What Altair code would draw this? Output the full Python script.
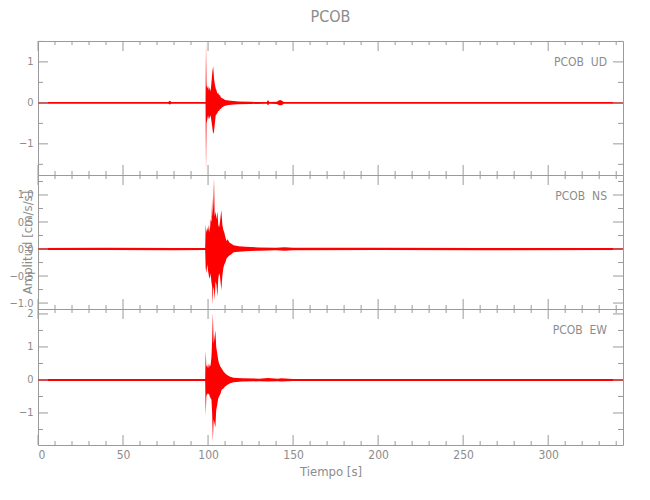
import altair as alt
import pandas as pd

# ---- data: envelope of each trace (time s, upper, lower) ----
UD = [(0, .022, -.022), (30, .024, -.02), (60, .022, -.022), (76.5, .022, -.022), (77.5, .05, -.04),
      (78.5, .022, -.022), (95, .022, -.022), (98.5, .022, -.022), (98.8, 1.47, -1.66), (99.1, .45, -.50),
      (99.5, .35, -.42), (100.0, .42, -.30), (100.5, .30, -.40), (101.0, .38, -.35), (101.5, .28, -.30),
      (102.0, .50, -.45), (102.5, .75, -.60), (103.0, .90, -.76), (103.5, .60, -.70), (104.0, .45, -.50),
      (104.5, .35, -.30), (105.0, .30, -.28), (105.5, .22, -.25), (106.0, .25, -.20), (106.5, .18, -.20),
      (107.0, .20, -.15), (107.5, .14, -.15), (108.0, .12, -.12), (109.0, .10, -.09), (110.0, .07, -.07),
      (112.0, .06, -.05), (115.0, .045, -.04), (118.0, .035, -.035), (125.0, .025, -.025), (134.5, .022, -.022),
      (135.3, .07, -.06), (136.0, .022, -.022), (140.5, .03, -.03), (141.5, .06, -.05), (142.5, .07, -.06),
      (143.5, .05, -.05), (144.5, .022, -.022), (200, .022, -.022), (260, .024, -.022), (344, .022, -.022)]

NS = [(0, .018, -.018), (40, .022, -.018), (80, .018, -.022), (98.3, .018, -.018), (98.6, .46, -.35),
      (99.0, .30, -.45), (99.5, .40, -.28), (100.0, .33, -.40), (100.5, .45, -.50), (101.0, .30, -.55),
      (101.5, .55, -.45), (102.0, .50, -.62), (102.4, .95, -.70), (102.7, .60, -1.03), (103.1, .85, -.70),
      (103.5, 1.31, -.75), (103.9, .60, -.95), (104.4, .70, -.60), (104.9, .55, -.65), (105.5, .69, -.88),
      (106.0, .45, -.55), (106.5, .40, -.45), (107.0, .50, -.50), (107.8, .72, -.76), (108.4, .45, -.50),
      (109.0, .35, -.35), (109.6, .30, -.28), (110.2, .22, -.25), (110.8, .15, -.18), (111.5, .18, -.15),
      (112.5, .12, -.12), (113.5, .10, -.10), (115, .07, -.06), (118, .05, -.05), (122, .04, -.04),
      (130, .03, -.03), (140, .025, -.022), (145, .035, -.03), (150, .022, -.022), (200, .022, -.018),
      (260, .018, -.022), (344, .018, -.018)]

EW = [(0, .028, -.028), (50, .03, -.028), (98.3, .028, -.028), (98.6, .89, -1.08), (99.0, .40, -.50),
      (99.5, .45, -.40), (100.0, .35, -.45), (100.5, .50, -.40), (101.0, .40, -.50), (101.5, .45, -.55),
      (102.0, .70, -.60), (102.4, 1.20, -1.00), (102.8, 2.03, -1.86), (103.3, 1.10, -1.20), (104.3, 1.50, -1.43),
      (104.8, 1.00, -.90), (105.3, .84, -.78), (106.0, .60, -.55), (106.5, .50, -.50), (107.3, .40, -.42),
      (108.0, .35, -.30), (109.2, .25, -.25), (110.0, .20, -.20), (111.2, .15, -.15), (113, .10, -.10),
      (115, .07, -.07), (120, .05, -.05), (130, .04, -.04), (135.3, .06, -.05), (141, .04, -.04),
      (143, .05, -.05), (150, .03, -.03), (200, .028, -.028), (344, .028, -.028)]

X_DOMAIN = [0, 344]
X_MAJOR = [0, 50, 100, 150, 200, 250, 300]
X_MINOR = [v for v in range(10, 344, 10) if v % 50]

Y_DOMAINS = {"UD": [-1.76, 1.51], "NS": [-1.11, 1.37], "EW": [-1.97, 2.15]}
Y_MAJOR = {"UD": [-1, 0, 1], "NS": [-1.0, -0.5, 0.0, 0.5, 1.0], "EW": [-1, 0, 1, 2]}
Y_MINOR = {"UD": [-1.5, -0.5, 0.5, 1.5], "NS": [-0.75, -0.25, 0.25, 0.75, 1.25],
           "EW": [-1.5, -0.5, 0.5, 1.5]}
Y_FMT = {"UD": "d", "NS": ".1f", "EW": "d"}

W = 585
GRAY = "#8c8c8c"
FONT = "Liberation Sans Narrow, DejaVu Sans Condensed, Roboto Condensed, sans-serif"
AXSTYLE = dict(labelFont=FONT, labelFontSize=11, labelColor=GRAY, titleFont=FONT, titleFontSize=13,
               titleColor=GRAY, titleFontWeight="normal", tickSize=0, domain=False, grid=False)


def panel(name, rows, h, first=False, last=False, ytitle=None):
    df = pd.DataFrame(rows, columns=["t", "hi", "lo"])
    xs = alt.Scale(domain=X_DOMAIN, nice=False, zero=False)
    ys = alt.Scale(domain=Y_DOMAINS[name], nice=False, zero=False)
    if last:
        xaxis = alt.Axis(values=X_MAJOR, labelPadding=4, title="Tiempo  [s]", titlePadding=5,
                         format="d", labelFontSize=12, **{k: v for k, v in AXSTYLE.items() if k != "labelFontSize"})
    else:
        xaxis = None
    yax = dict(values=Y_MAJOR[name], labelPadding=5, format=Y_FMT[name], **AXSTYLE)
    if ytitle:
        yax.update(title=ytitle, titleX=-4, titleY=h / 2)
    else:
        yax.update(title=None)
    yaxis = alt.Axis(**yax)

    trace = alt.Chart(df).mark_area(color="#ff0000", interpolate="linear", clip=True).encode(
        x=alt.X("t:Q", scale=xs, axis=xaxis),
        y=alt.Y("hi:Q", scale=ys, axis=yaxis),
        y2="lo:Q",
    )

    xmaj = pd.DataFrame({"v": X_MAJOR})
    xmin = pd.DataFrame({"v": X_MINOR})
    ymaj = pd.DataFrame({"v": Y_MAJOR[name]})
    ymin = pd.DataFrame({"v": Y_MINOR[name]})
    tick = dict(color="#9a9a9a", strokeWidth=1)
    layers = [trace]
    for d, L in ((xmaj, 10), (xmin, 4)):
        xe = alt.X("v:Q", scale=xs, axis=xaxis)
        layers.append(alt.Chart(d).mark_rule(**tick).encode(x=xe, y=alt.value(0), y2=alt.value(L)))
        layers.append(alt.Chart(d).mark_rule(**tick).encode(x=xe, y=alt.value(h), y2=alt.value(h - L)))
    for d, L in ((ymaj, 10), (ymin, 5)):
        ye = alt.Y("v:Q", scale=ys, axis=yaxis)
        layers.append(alt.Chart(d).mark_rule(**tick).encode(y=ye, x=alt.value(0), x2=alt.value(L)))
        layers.append(alt.Chart(d).mark_rule(**tick).encode(y=ye, x=alt.value(W), x2=alt.value(W - L)))
    lab = pd.DataFrame({"label": ["PCOB\u00a0\u00a0" + name]})
    layers.append(alt.Chart(lab).mark_text(align="right", baseline="middle", font=FONT, fontSize=12,
                                           color=GRAY).encode(
        x=alt.value(W - 16), y=alt.value(21), text="label:N"))
    props = dict(width=W, height=h)
    if first:
        props["title"] = alt.TitleParams("PCOB", fontSize=16, font=FONT, color=GRAY, fontWeight="normal",
                                         anchor="middle", offset=16)
    return alt.layer(*layers).properties(**props)


chart = alt.vconcat(
    panel("UD", UD, 134, first=True),
    panel("NS", NS, 134, ytitle="Amplitud  [cm/s/s]"),
    panel("EW", EW, 136, last=True),
    spacing=0,
    bounds="flush",
).properties(
    padding={"left": 0, "top": 0, "right": 10, "bottom": 5},
    background="white",
).configure_view(
    stroke="#9a9a9a", strokeWidth=1
)

chart.save("out.html", embed_options={"renderer": "svg", "actions": False})
